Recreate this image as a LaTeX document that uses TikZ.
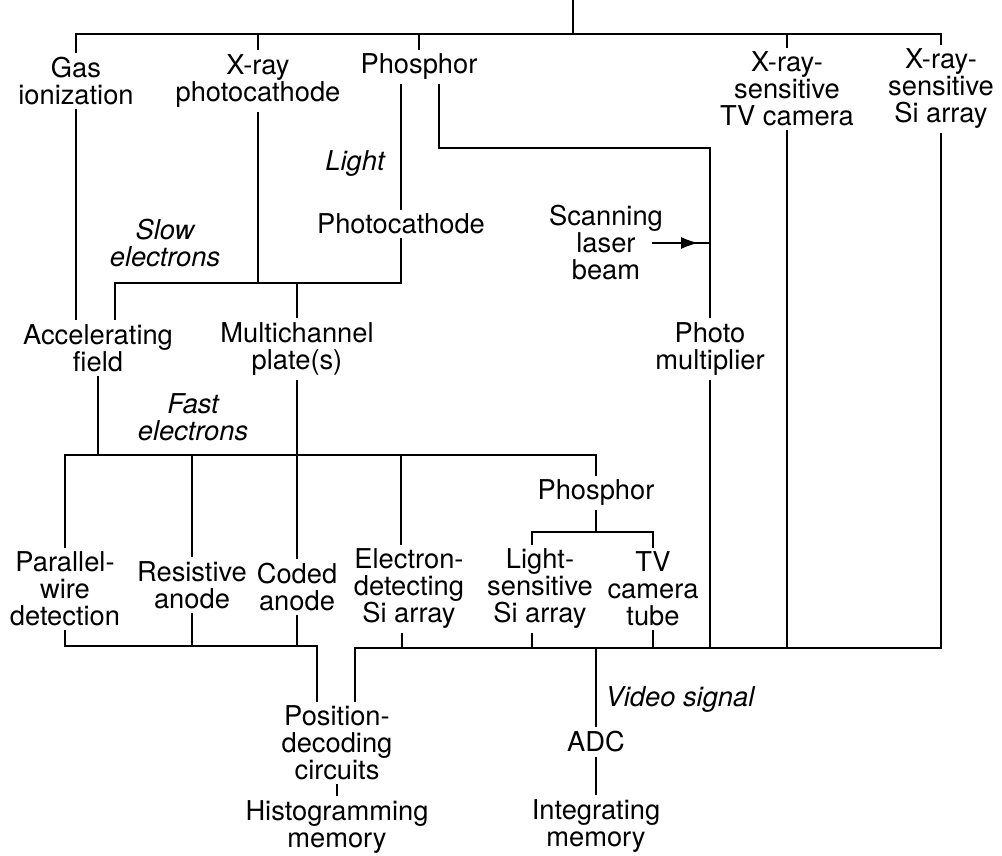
\documentclass[tikz,border=0pt]{standalone}
\usepackage{fontspec}
\setmainfont{TeX Gyre Heros}
\usetikzlibrary{arrows.meta,calc}

\tikzset{
  lbl/.style={align=center, inner sep=4pt, font=\fontsize{27.3}{27}\selectfont},
  flow/.style={lbl, font=\fontsize{27.3}{27}\selectfont\itshape},
  wire/.style={line width=1.2pt},
}

\begin{document}
\begin{tikzpicture}[x=1pt,y=-1pt]
\useasboundingbox (0,0) rectangle (1002,855);

% detectors
\node[lbl] (gas) at (76,81) {Gas\\ionization};
\node[lbl] (xpc) at (258,81) {X-ray\\photocathode};
\node[lbl] (phos) at (419,67) {Phosphor};
\node[lbl] (xtv) at (787,89) {X-ray-\\sensitive\\TV camera};
\node[lbl] (xsi) at (941,89) {X-ray-\\sensitive\\Si array};

\node[flow] (light) at (355,164) {Light};
\node[lbl] (pcath) at (401,224) {Photocathode};
\node[flow] (slow) at (165,243) {Slow\\electrons};
\node[lbl] (laser) at (606,243) {Scanning\\laser\\beam};

\node[lbl] (acc) at (98,348) {Accelerating\\field};
\node[lbl] (mcp) at (297,349) {Multichannel\\plate(s)};
\node[lbl] (pmt) at (710,349) {Photo\\multiplier};

\node[flow] (fast) at (193,417) {Fast\\electrons};
\node[lbl] (phos2) at (596,493) {Phosphor};

\node[lbl] (pwd) at (65,589) {Parallel-\\wire\\detection};
\node[lbl] (ranode) at (192,585) {Resistive\\anode};
\node[lbl] (canode) at (297,587) {Coded\\anode};
\node[lbl] (esi) at (409,589) {Electron-\\detecting\\Si array};
\node[lbl] (lsi) at (540,589) {Light-\\sensitive\\Si array};
\node[lbl] (tvt) at (653,589) {TV\\camera\\tube};

% readout
\node[lbl] (pdc) at (337,743) {Position-\\decoding\\circuits};
\node[flow] (video) at (680,700) {Video signal};
\node[lbl] (adc) at (596,742) {ADC};
\node[lbl] (hist) at (337,827) {Histogramming\\memory};
\node[lbl] (intm) at (596,826) {Integrating\\memory};

% bus levels
\coordinate (root) at (573,0);
\coordinate (tbar) at (573,34);
\coordinate (sbar) at (297,283);
\coordinate (pbend) at (710,148);
\coordinate (fbar) at (297,455);
\coordinate (lbar) at (596,532);
\coordinate (lbot) at (317,646);
\coordinate (rbar) at (596,648);

\draw[wire] (root) -- (tbar);
\draw[wire] (gas.north) |- (tbar) -| (xsi.north);
\draw[wire] (xpc.north) -- (xpc.north |- tbar);
\draw[wire] (phos.north) -- (phos.north |- tbar);
\draw[wire] (xtv.north) -- (xtv.north |- tbar);

\draw[wire] (gas.south) -- (gas.south |- acc.north);
\draw[wire] (phos.south -| pcath) -- (pcath.north);
\draw[wire] ([xshift=20pt]phos.south) |- (pbend) -- (pmt.north);
\draw[wire] ([xshift=17pt]acc.north) |- (pcath.south |- sbar) -- (pcath.south);
\draw[wire] (xpc.south) -- (xpc.south |- sbar);
\draw[wire] (mcp.north) -- (mcp.north |- sbar);

\draw[wire] ($(laser.center)+(46,0)$) -- (laser.center -| pmt);
\draw[wire,-{Latex[length=17pt,width=12pt]}] ($(laser.center)+(46,0)$) -- ($(laser.center)+(92,0)$);

\draw[wire] (pwd.north) |- (phos2.north |- fbar) -- (phos2.north);
\draw[wire] (acc.south) -- (acc.south |- fbar);
\draw[wire] (ranode.north) -- (ranode.north |- fbar);
\draw[wire] ([xshift=-8pt]esi.north) -- ([xshift=-8pt]esi.north |- fbar);
\draw[wire] (mcp.south) -- (canode.north);

\draw[wire] (phos2.south) -- (phos2.south |- lbar);
\draw[wire] ([xshift=-8pt]lsi.north) |- (tvt.north |- lbar) -- (tvt.north);

\draw[wire] (pwd.south) |- (lbot) -- ([xshift=-20pt]pdc.north);
\draw[wire] (ranode.south) -- (ranode.south |- lbot);
\draw[wire] (canode.south) -- (canode.south |- lbot);

\draw[wire] ([xshift=18pt]pdc.north) |- (xsi.south |- rbar) -- (xsi.south);
\draw[wire] ([xshift=-7pt]esi.south) -- ([xshift=-7pt]esi.south |- rbar);
\draw[wire] ([xshift=-8pt]lsi.south) -- ([xshift=-8pt]lsi.south |- rbar);
\draw[wire] (tvt.south) -- (tvt.south |- rbar);
\draw[wire] (pmt.south) -- (pmt.south |- rbar);
\draw[wire] (xtv.south) -- (xtv.south |- rbar);
\draw[wire] (rbar) -- (adc.north);

\draw[wire] (pdc.south) -- (hist.north);
\draw[wire] (adc.south) -- (intm.north);

\end{tikzpicture}
\end{document}
